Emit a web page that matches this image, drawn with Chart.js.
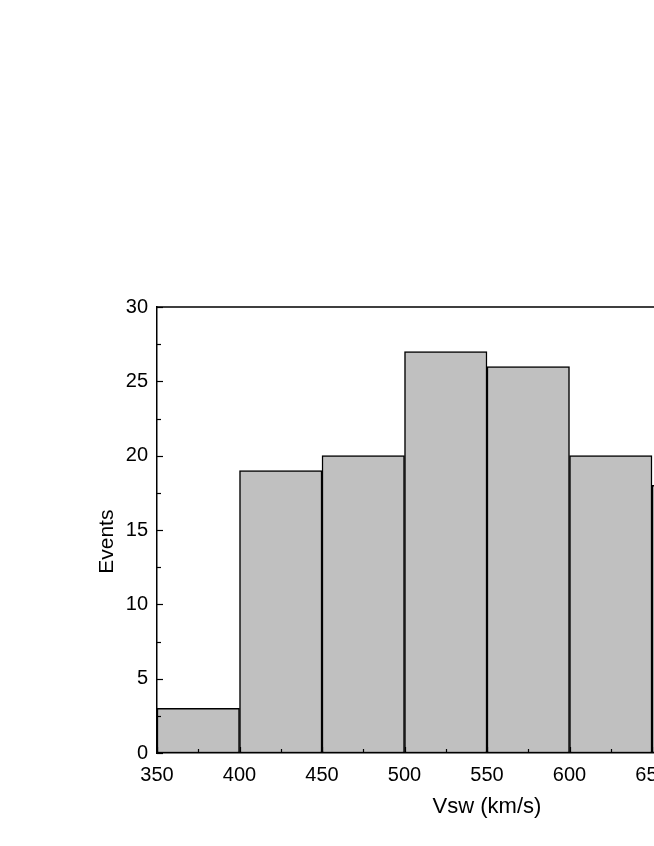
<!DOCTYPE html>
<html>
<head>
<meta charset="utf-8">
<script src="https://cdn.jsdelivr.net/npm/chart.js@4.4.1/dist/chart.umd.min.js"></script>
<style>
  html, body { margin: 0; padding: 0; background: #ffffff; overflow: hidden; width: 654px; height: 846px; }
  #wrap { position: absolute; left: 0; top: 0; width: 880px; height: 846px; }
</style>
</head>
<body>
<div id="wrap"><canvas id="c" width="880" height="846"></canvas></div>
<script>
// Histogram bins (lower edges, km/s) and event counts
const binStarts = [350, 400, 450, 500, 550, 600, 650];
const binWidth = 50;
const events = [3, 19, 20, 27, 26, 20, 18];
const xTickLabels = [350, 400, 450, 500, 550, 600, 650, 700, 750];
const yTickLabels = [0, 5, 10, 15, 20, 25, 30];

const barData = binStarts.map((s, i) => ({ x: s + binWidth / 2, y: events[i] }));

const FONT = "'Liberation Sans', Arial, sans-serif";

const inwardTicks = {
  id: 'inwardTicks',
  afterDraw(chart) {
    const ctx = chart.ctx;
    const area = chart.chartArea;
    const xs = chart.scales.x, ys = chart.scales.y;
    ctx.save();
    ctx.strokeStyle = '#000';
    ctx.lineWidth = 1.5;
    // frame: top and right
    ctx.beginPath();
    ctx.moveTo(area.left, area.top);
    ctx.lineTo(area.right, area.top);
    ctx.lineTo(area.right, area.bottom);
    ctx.stroke();
    ctx.lineWidth = 1.2;
    const xVals = [];
    xs.ticks.forEach((t, i) => {
      xVals.push([t.value, 6]);
      if (i < xs.ticks.length - 1) xVals.push([(t.value + xs.ticks[i + 1].value) / 2, 4]);
    });
    xVals.forEach(([v, len]) => {
      const px = Math.round(xs.getPixelForValue(v)) + 0.5;
      ctx.beginPath();
      ctx.moveTo(px, area.bottom);
      ctx.lineTo(px, area.bottom - len);
      ctx.stroke();
    });
    const yVals = [];
    ys.ticks.forEach((t, i) => {
      yVals.push([t.value, 6]);
      if (i < ys.ticks.length - 1) yVals.push([(t.value + ys.ticks[i + 1].value) / 2, 4]);
    });
    yVals.forEach(([v, len]) => {
      const py = Math.round(ys.getPixelForValue(v)) + 0.5;
      ctx.beginPath();
      ctx.moveTo(area.left, py);
      ctx.lineTo(area.left + len, py);
      ctx.stroke();
    });
    ctx.restore();
  }
};

new Chart(document.getElementById('c'), {
  type: 'bar',
  data: {
    datasets: [{
      data: barData,
      backgroundColor: '#c0c0c0',
      borderColor: '#000000',
      borderWidth: 1.5,
      borderSkipped: false,
      barPercentage: 1.0,
      categoryPercentage: 1.0
    }]
  },
  options: {
    responsive: false,
    animation: false,
    devicePixelRatio: 1,
    layout: { padding: { top: 307, right: 63, bottom: 0, left: 0 } },
    plugins: { legend: { display: false }, tooltip: { enabled: false } },
    scales: {
      x: {
        type: 'linear',
        min: 350,
        max: 750,
        offset: false,
        grid: { display: false, drawTicks: false },
        border: { display: true, color: '#000', width: 1.5 },
        ticks: {
          stepSize: 50,
          autoSkip: false,
          maxRotation: 0,
          padding: 10,
          color: '#000',
          font: { family: FONT, size: 20 },
          callback: v => String(v)
        },
        title: {
          display: true,
          text: 'Vsw (km/s)',
          color: '#000',
          font: { family: FONT, size: 22 },
          padding: { top: 0, bottom: 26 }
        },
        afterFit: s => { s.height = 93; }
      },
      y: {
        min: 0,
        max: 30,
        grid: { display: false, drawTicks: false },
        border: { display: true, color: '#000', width: 1.5 },
        ticks: {
          stepSize: 5,
          autoSkip: false,
          padding: 9,
          color: '#000',
          font: { family: FONT, size: 20 },
          callback: v => String(v)
        },
        title: {
          display: true,
          text: 'Events    ',
          color: '#000',
          font: { family: FONT, size: 21 },
          padding: { top: 95, bottom: 0 }
        },
        afterFit: s => { s.width = 157; }
      }
    }
  },
  plugins: [inwardTicks]
});
</script>
</body>
</html>
